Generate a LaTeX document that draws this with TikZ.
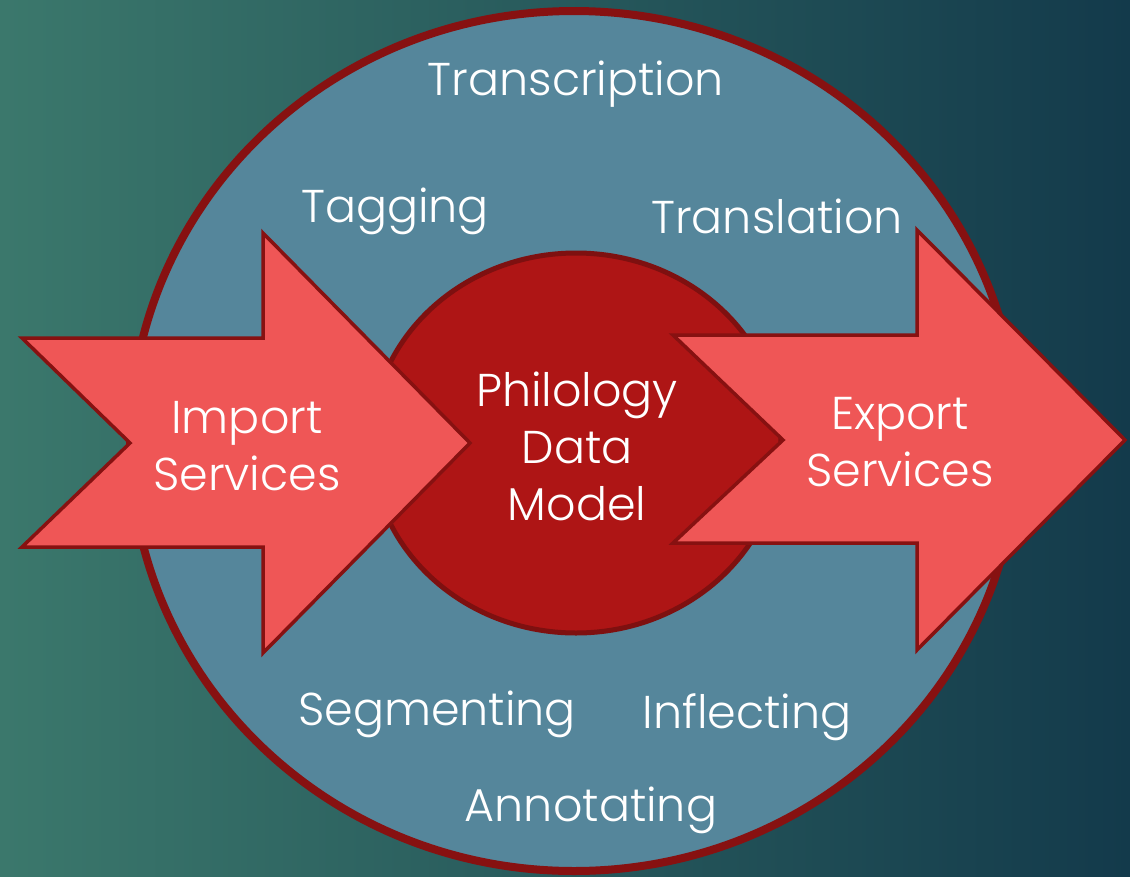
\documentclass[tikz,border=0pt]{standalone}
\usepackage{fontspec}
\setmainfont{Poppins}[UprightFont=* Light]
\usetikzlibrary{positioning}
\definecolor{bgleft}{HTML}{3B786C}
\definecolor{bgright}{HTML}{133A4B}
\definecolor{ringfill}{HTML}{55869B}
\definecolor{ringline}{HTML}{871111}
\definecolor{corefill}{HTML}{AE1515}
\definecolor{coreline}{HTML}{7E1010}
\definecolor{arrowfill}{HTML}{EF5656}
\begin{document}
\begin{tikzpicture}[x=1pt,y=-1pt,
  word/.style={text=white,inner sep=0pt,align=center,
    font=\fontsize{46}{57}\selectfont},
  fat arrow/.style={fill=arrowfill,draw=ringline,line width=3.5pt,line join=miter}]
    \useasboundingbox (0,0) rectangle (1130,876);
    \clip (0,0) rectangle (1130,876);
    % background
    \shade[left color=bgleft,right color=bgright] (0,0) rectangle (1130,876);
    % the ring and the core
    \draw[fill=ringfill,draw=ringline,line width=8pt]
        (574,441) ellipse [x radius=444,y radius=430];
    \draw[fill=corefill,draw=coreline,line width=5pt]
        (576,443) ellipse [x radius=205,y radius=190];

    % import arrow
    \coordinate (in-tail) at (130,443);
    \coordinate (in-tip) at (470,443);
    \draw[fat arrow] (22,338) -- (263,338) -- (263,233) -- (in-tip)
        -- (263,653) -- (263,547) -- (22,547) -- (in-tail) -- cycle;
    % export arrow
    \coordinate (out-tail) at (783,440);
    \coordinate (out-tip) at (1125,440);
    \draw[fat arrow] (673,335) -- (917,335) -- (917,230) -- (out-tip)
        -- (917,650) -- (917,543) -- (673,543) -- (out-tail) -- cycle;

    % labels
    \node[word] (import) at (247,446) {Import\\Services};
    \node[word] (export) at (900,442) {Export\\Services};
    \node[word] (model) at (577,446) {Philology\\Data\\Model};

    \node[word] (transcription) at (576,84) {Transcription};
    \node[word] (tagging) at (395,211) {Tagging};
    \node[word] (translation) at (777,216) {Translation};
    \node[word] (segmenting) at (437,714) {Segmenting};
    \node[word] (inflecting) at (747,717) {Inflecting};
    \node[word] (annotating) at (591,810) {Annotating};
\end{tikzpicture}
\end{document}
